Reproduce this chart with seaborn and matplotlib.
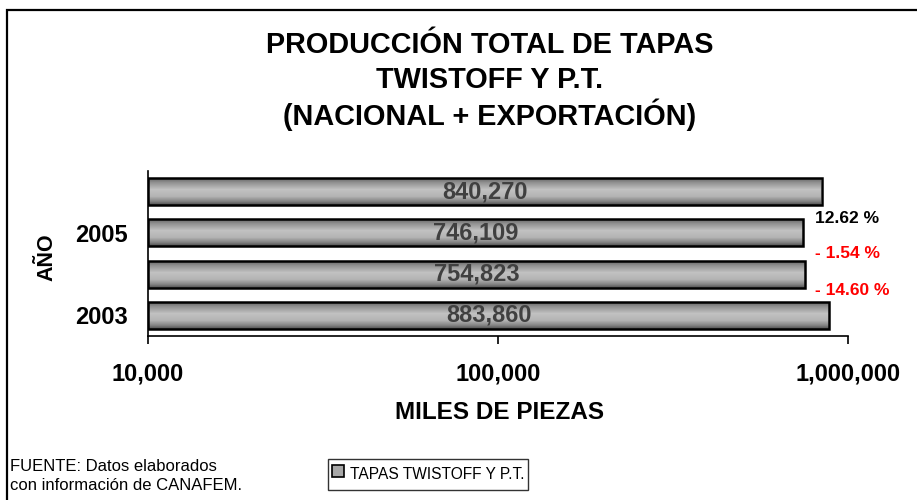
import numpy as np
import pandas as pd
import matplotlib
matplotlib.use("Agg")
import matplotlib.pyplot as plt
from matplotlib.colors import LinearSegmentedColormap
from matplotlib.patches import Rectangle
from matplotlib.lines import Line2D
from matplotlib.ticker import FuncFormatter, NullLocator, FixedLocator
import seaborn as sns

# Producción total de tapas (miles de piezas), de arriba hacia abajo
years = ["2006", "2005", "2004", "2003"]
year_labels = ["", "2005", "", "2003"]
production = [840270, 746109, 754823, 883860]
change_labels = ["12.62 %", "- 1.54 %", "- 14.60 %"]
change_colors = ["black", "red", "red"]
x_ticks = [10000, 100000, 1000000]

title_lines = ["PRODUCCIÓN TOTAL DE TAPAS", "TWISTOFF Y P.T.", "(NACIONAL + EXPORTACIÓN)"]
series_name = "TAPAS TWISTOFF Y P.T."
source_note = "FUENTE: Datos elaborados\ncon información de CANAFEM."

sns.set_theme(style="white")
plt.rcParams["font.family"] = ["Liberation Sans", "DejaVu Sans"]
for key in ["text.color", "axes.labelcolor", "xtick.color", "ytick.color"]:
    plt.rcParams[key] = "black"

W, H = 917, 500
fig = plt.figure(figsize=(W / 100, H / 100), dpi=100)
ax = fig.add_axes([148 / W, 1 - 336 / H, 700 / W, 165 / H])

df = pd.DataFrame({"year": years, "value": production})
sns.barplot(data=df, x="value", y="year", order=years, orient="h",
            color="#b0b0b0", edgecolor="black", linewidth=1.8,
            width=0.66, log_scale=True, ax=ax)

xmin, xmax = x_ticks[0], x_ticks[-1]

# Gray cylinder-like shading inside each bar
shade = LinearSegmentedColormap.from_list(
    "shade", [(0.0, "#5c5c5c"), (0.18, "#8e8e8e"), (0.45, "#c2c2c2"),
              (0.7, "#b4b4b4"), (0.88, "#858585"), (1.0, "#555555")])
grad = np.linspace(0, 1, 256).reshape(-1, 1)
for patch, val in zip(ax.patches, production):
    y0 = patch.get_y()
    h = patch.get_height()
    patch.set_x(xmin)
    patch.set_width(val - xmin)
    patch.set_facecolor("none")
    patch.set_zorder(3)
    im = ax.imshow(grad, cmap=shade, aspect="auto", interpolation="bilinear",
                   extent=[xmin, val, y0 + h, y0], zorder=2)
    im.set_clip_path(patch)

ax.set_xlim(xmin, xmax)
ax.set_ylim(len(years) - 0.5, -0.5)

# Values centered on each bar (geometric middle on the log axis)
for i, val in enumerate(production):
    ax.text(np.sqrt(xmin * val), i, f"{val:,}", ha="center", va="center",
            fontsize=17, fontweight="bold", color="#404040", zorder=4)

# Year-over-year change labels to the right of the bars
change_pos = [0.66, 1.5, 2.4]
for lab, col, yp in zip(change_labels, change_colors, change_pos):
    ax.text(0.953, yp, lab, transform=ax.get_yaxis_transform(),
            ha="left", va="center", fontsize=12.5, fontweight="bold",
            color=col, clip_on=False)

ax.xaxis.set_major_locator(FixedLocator(x_ticks))
ax.xaxis.set_minor_locator(NullLocator())
ax.xaxis.set_major_formatter(FuncFormatter(lambda v, p: f"{v:,.0f}"))
ax.tick_params(axis="x", which="major", direction="out", length=6, width=1.2,
               color="black", bottom=True, labelsize=17, pad=13)
for lab in ax.get_xticklabels():
    lab.set_fontweight("bold")
ax.set_yticks(range(len(years)))
ax.set_yticklabels(year_labels, fontsize=17, fontweight="bold")
ax.tick_params(axis="y", length=0, pad=14.5)

for side in ["top", "right"]:
    ax.spines[side].set_visible(False)
for side in ["left", "bottom"]:
    ax.spines[side].set_color("black")
    ax.spines[side].set_linewidth(1.2)

ax.set_xlabel("MILES DE PIEZAS", fontsize=17.5, fontweight="bold")
ax.set_ylabel("AÑO", fontsize=15.5, fontweight="bold")
ax.xaxis.set_label_coords((500 - 148) / 700, -(401 - 336) / 165)
ax.yaxis.set_label_coords(-(148 - 57) / 700, (336 - 257) / 165)

for k, line in enumerate(title_lines):
    fig.text(490 / W, 1 - (45 + 35 * k) / H, line, ha="center", va="center",
             fontsize=20.8, fontweight="bold")

fig.text(10 / W, 1 - 476 / H, source_note, ha="left", va="center",
         fontsize=12, linespacing=1.3)

handle = Line2D([], [], linestyle="none", marker="s", markersize=8,
                markerfacecolor="#a8a8a8", markeredgecolor="black",
                markeredgewidth=1.2)
leg = fig.legend([handle], [series_name], loc="center",
                 bbox_to_anchor=(428 / W, 1 - 474.5 / H), frameon=True,
                 prop={"size": 11.2},
                 handlelength=0.8, handleheight=2.0,
                 handletextpad=0.4, borderpad=0.2, borderaxespad=0,
                 fancybox=False)
leg.get_frame().set_edgecolor("black")
leg.get_frame().set_linewidth(1.0)

# Outer chart frame
fig.patches.append(Rectangle((7 / W, -0.1), 1.2, 1.08, transform=fig.transFigure,
                             fill=False, edgecolor="black", linewidth=1.6))

fig.savefig("out.png", dpi=100)
